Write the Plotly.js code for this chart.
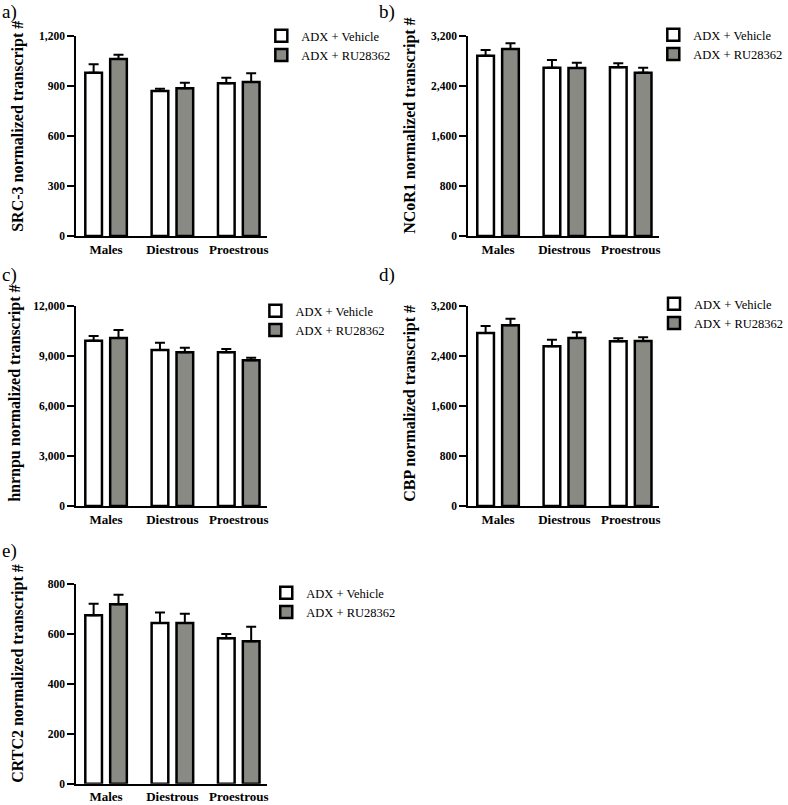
<!DOCTYPE html>
<html>
<head>
<meta charset="utf-8">
<script src="https://cdn.plot.ly/plotly-3.0.1.min.js"></script>
<style>html,body{margin:0;padding:0;background:#fff;}#chart{width:788px;height:805px;}</style>
</head>
<body>
<div id="chart"></div>
<script>
// ---- data ----
const categories = ["Males", "Diestrous", "Proestrous"];
const seriesNames = ["ADX + Vehicle", "ADX + RU28362"];

const panelLabels = ["a)", "b)", "c)", "d)", "e)"];
const yTitles = [
  "SRC-3 normalized transcript #",
  "NCoR1 normalized transcript #",
  "hnrnpu normalized transcript #",
  "CBP normalized transcript #",
  "CRTC2 normalized transcript #"
];
const yMax = [1200, 3200, 12000, 3200, 800];
const yStep = [300, 800, 3000, 800, 200];

// SRC-3
const src3Vehicle = [980, 870, 916];
const src3VehicleSEM = [50, 14, 34];
const src3RU = [1062, 886, 924];
const src3RUSEM = [26, 34, 52];
// NCoR1
const ncor1Vehicle = [2885, 2693, 2699];
const ncor1VehicleSEM = [91, 123, 64];
const ncor1RU = [2992, 2688, 2613];
const ncor1RUSEM = [91, 85, 80];
// hnrnpu
const hnrnpuVehicle = [9920, 9360, 9220];
const hnrnpuVehicleSEM = [280, 440, 200];
const hnrnpuRU = [10080, 9220, 8740];
const hnrnpuRUSEM = [480, 280, 160];
// CBP
const cbpVehicle = [2768, 2555, 2635];
const cbpVehicleSEM = [112, 106, 48];
const cbpRU = [2891, 2688, 2640];
const cbpRUSEM = [106, 91, 59];
// CRTC2
const crtc2Vehicle = [674, 643, 582];
const crtc2VehicleSEM = [46, 42, 17];
const crtc2RU = [718, 643, 570];
const crtc2RUSEM = [38, 37, 58];

const panels = [
  [src3Vehicle, src3VehicleSEM, src3RU, src3RUSEM],
  [ncor1Vehicle, ncor1VehicleSEM, ncor1RU, ncor1RUSEM],
  [hnrnpuVehicle, hnrnpuVehicleSEM, hnrnpuRU, hnrnpuRUSEM],
  [cbpVehicle, cbpVehicleSEM, cbpRU, cbpRUSEM],
  [crtc2Vehicle, crtc2VehicleSEM, crtc2RU, crtc2RUSEM]
];

// ---- layout geometry (pixels) ----
const W = 788, H = 805;
const boxes = [ // [left, right, top, bottom]
  [77, 270, 36, 236],
  [473, 666, 36, 236],
  [77, 270, 306, 506],
  [473, 666, 306, 506],
  [77, 270, 583.7, 783.7]
];
const labelPos = [[0, 12], [381, 12], [0, 275], [381, 275], [0, 551]];
const titlePos = [[18, 126], [414, 126], [15, 393], [414, 403], [18, 673]];
const legendPos = [[264, 21], [660, 20], [258, 296], [661, 289], [269, 578]];

const FONT = "Liberation Serif";
const fillColors = ["#ffffff", "#8a8a84"];

const traces = [];
const layout = {
  width: W, height: H,
  margin: {l: 0, r: 0, t: 0, b: 0},
  paper_bgcolor: "#ffffff", plot_bgcolor: "rgba(0,0,0,0)",
  barmode: "group", bargap: 0.25, bargroupgap: 0.33,
  showlegend: true,
  annotations: [],
  font: {family: FONT, color: "#000"}
};

panels.forEach((p, i) => {
  const sfx = i === 0 ? "" : String(i + 1);
  const legendId = "legend" + sfx;
  for (let s = 0; s < 2; s++) {
    const vals = p[s * 2], sem = p[s * 2 + 1];
    traces.push({
      type: "bar",
      x: categories,
      y: vals,
      name: seriesNames[s],
      xaxis: "x" + sfx, yaxis: "y" + sfx,
      legend: legendId,
      marker: {color: fillColors[s], line: {color: "#000", width: 2.5}},
      error_y: {type: "data", symmetric: false, array: sem, arrayminus: sem.map(() => 0),
                color: "#000", thickness: 2, width: 5},
      hoverinfo: "skip"
    });
  }
  const b = boxes[i];
  layout["xaxis" + sfx] = {
    domain: [b[0] / W, b[1] / W],
    anchor: "y" + sfx,
    range: [-0.45, 2.43],
    showline: true, linecolor: "#000", linewidth: 2,
    ticks: "", showgrid: false, zeroline: false,
    tickfont: {family: FONT, size: 13, color: "#000", weight: "bold"},
    fixedrange: true
  };
  layout["yaxis" + sfx] = {
    domain: [1 - b[3] / H, 1 - b[2] / H],
    anchor: "x" + sfx,
    range: [0, yMax[i]],
    tick0: 0, dtick: yStep[i], tickformat: ",d",
    showline: true, linecolor: "#000", linewidth: 2,
    ticks: "outside", ticklen: 7, tickwidth: 2, tickcolor: "#000",
    showgrid: false, zeroline: false,
    tickfont: {family: FONT, size: 11.5, color: "#000", weight: "bold"},
    fixedrange: true
  };
  layout[legendId] = {
    x: legendPos[i][0] / W, y: 1 - legendPos[i][1] / H,
    xanchor: "left", yanchor: "top",
    bgcolor: "rgba(0,0,0,0)", borderwidth: 0,
    font: {family: FONT, size: 12.5, color: "#000"},
    tracegroupgap: 0
  };
  layout.annotations.push({
    xref: "paper", yref: "paper",
    x: labelPos[i][0] / W, y: 1 - labelPos[i][1] / H,
    xanchor: "left", yanchor: "middle",
    text: panelLabels[i], showarrow: false,
    font: {family: FONT, size: 19, color: "#000"}
  });
  layout.annotations.push({
    xref: "paper", yref: "paper",
    x: titlePos[i][0] / W, y: 1 - titlePos[i][1] / H,
    xanchor: "center", yanchor: "middle", textangle: -90,
    text: yTitles[i], showarrow: false,
    font: {family: FONT, size: 16, color: "#000", weight: "bold"}
  });
});

Plotly.newPlot("chart", traces, layout, {displayModeBar: false, staticPlot: true});
</script>
</body>
</html>
